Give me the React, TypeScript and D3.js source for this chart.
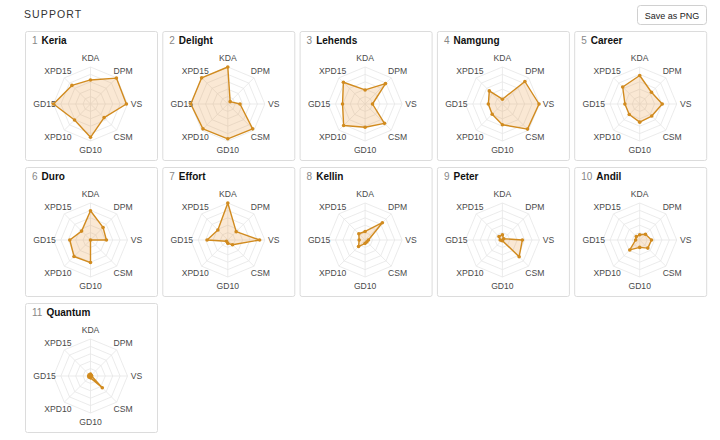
import React from "react";
import * as d3 from "d3";

const axes = ["KDA", "DPM", "VS", "CSM", "GD10", "XPD10", "GD15", "XPD15"];
const players = ["Keria", "Delight", "Lehends", "Namgung", "Career", "Duro", "Effort", "Kellin", "Peter", "Andil", "Quantum"];

const keria = [0.65, 0.99, 0.97, 0.52, 0.9, 0.61, 1.0, 0.71];
const delight = [1.0, 0.09, 0.33, 0.95, 0.94, 0.95, 1.0, 1.0];
const lehends = [0.38, 0.78, 0.2, 0.74, 0.63, 0.82, 0.61, 0.83];
const namgung = [0.13, 0.86, 0.99, 0.96, 0.56, 0.39, 0.38, 0.5];
const career = [0.77, 0.45, 0.61, 0.46, 0.49, 0.4, 0.4, 0.65];
const duro = [0.79, 0.48, 0.43, 0.0, 0.61, 0.63, 0.56, 0.34];
const effort = [1.0, 0.32, 0.86, 0.18, 0.09, 0.05, 0.56, 0.38];
const kellin = [0.23, 0.66, 0.09, 0.07, 0.09, 0.25, 0.16, 0.24];
const peter = [0.14, 0.05, 0.54, 0.64, 0.02, 0.02, 0.06, 0.13];
const andil = [0.14, 0.22, 0.32, 0.31, 0.2, 0.38, 0.11, 0.13];
const quantum = [0.05, 0.03, 0.03, 0.45, 0.05, 0.05, 0.05, 0.05];

const series = [keria, delight, lehends, namgung, career, duro, effort, kellin, peter, andil, quantum];

const FONT = "'Liberation Sans', Arial, Helvetica, sans-serif";
const W = 720, H = 440;
const cardW = 132, cardH = 129, pitchX = 137.3, pitchY = 136, left0 = 25, top0 = 31;
const R = 37, labelR = 46;
const levels = [0.2, 0.4, 0.6, 0.8, 1.0];

const angle = d3.scaleLinear().domain([0, axes.length]).range([0, 2 * Math.PI]);
const rScale = d3.scaleLinear().domain([0, 1]).range([0, R]);

function Radar({ idx }: { idx: number }) {
  const col = idx % 5, row = Math.floor(idx / 5);
  const x0 = left0 + col * pitchX, y0 = top0 + row * pitchY;
  const cx = cardW / 2 - 0.5, cy = 73;
  const vals = series[idx];
  const line = d3.lineRadial<number>()
    .angle((_, i) => angle(i))
    .radius((d) => rScale(d))
    .curve(d3.curveLinearClosed);
  const pt = (i: number, v: number) => {
    const a = angle(i);
    return [Math.sin(a) * rScale(v), -Math.cos(a) * rScale(v)];
  };
  return (
    <g transform={`translate(${x0},${y0})`}>
      <rect x={0.5} y={0.5} width={cardW} height={cardH} rx={2} fill="#fff" stroke="#dcdcdc" />
      <text x={7} y={13} fontFamily={FONT} fontSize={10}>
        <tspan fill="#888">{idx + 1}</tspan>
        <tspan dx={4} fill="#111" fontWeight="bold">{players[idx]}</tspan>
      </text>
      <g transform={`translate(${cx},${cy})`}>
        {levels.map((l) => (
          <path key={l} d={line(axes.map(() => l)) || ""} fill="none" stroke="#e6e6e6" strokeWidth={0.8} />
        ))}
        {axes.map((a, i) => {
          const [px, py] = pt(i, 1);
          return <line key={a} x1={0} y1={0} x2={px} y2={py} stroke="#e6e6e6" strokeWidth={0.8} />;
        })}
        {axes.map((a, i) => {
          const an = angle(i);
          return (
            <text key={a} x={Math.sin(an) * labelR} y={-Math.cos(an) * labelR} textAnchor="middle"
              dominantBaseline="central" fontFamily={FONT} fontSize={8.6} fill="#4a4a4a">{a}</text>
          );
        })}
        <path d={line(vals) || ""} fill="rgba(232,150,60,0.22)" stroke="#d18b1f" strokeWidth={1.4} strokeLinejoin="round" />
        {vals.map((v, i) => {
          const [px, py] = pt(i, v);
          return <circle key={i} cx={px} cy={py} r={1.8} fill="#d18b1f" />;
        })}
      </g>
    </g>
  );
}

export default function App() {
  return (
    <svg width={W} height={H} style={{ position: "absolute", left: 0, top: 0, background: "#fff" }}>
      <rect width={W} height={H} fill="#fff" />
      <text x={24} y={18} fontFamily={FONT} fontSize={10.5} letterSpacing={1.1} fill="#333">SUPPORT</text>
      <rect x={637.5} y={5.5} width={69} height={19} rx={3} fill="#fff" stroke="#d0d0d0" />
      <text x={672} y={15.5} textAnchor="middle" dominantBaseline="central" fontFamily={FONT} fontSize={9} fill="#222">Save as PNG</text>
      {players.map((_, i) => <Radar key={i} idx={i} />)}
    </svg>
  );
}
